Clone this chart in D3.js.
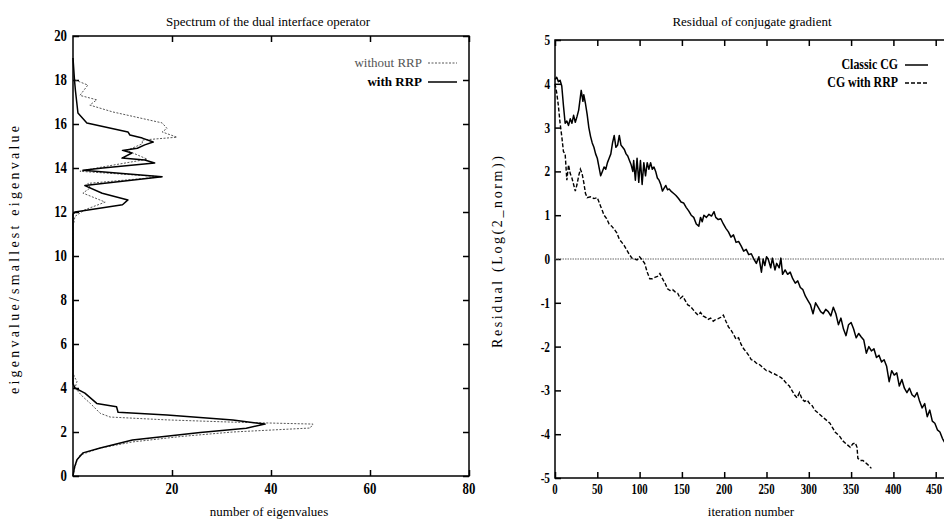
<!DOCTYPE html>
<html>
<head>
<meta charset="utf-8">
<script src="https://cdn.jsdelivr.net/npm/d3@7"></script>
<style>
  body { margin: 0; background: #fff; }
  svg { display: block; font-family: "Liberation Serif", "DejaVu Serif", serif; }
</style>
</head>
<body>
<svg id="chart" width="944" height="519"></svg>
<script>
// ---- left panel: spectrum (count of eigenvalues vs eigenvalue ratio) ----
// points are [number of eigenvalues, eigenvalue/smallest eigenvalue], in path order
const withoutRRP = [
  [0,0],[0.4,0.4],[0.8,0.7],[1.4,0.95],[5.5,1.27],[12.1,1.55],[22,1.8],[32.3,2.0],[47.9,2.18],[48.5,2.36],
  [32,2.45],[19,2.55],[7.5,2.68],[5.5,2.85],[3.5,3.3],[2,3.6],[0.4,4.0],[0.8,4.3],[0.3,4.5],[0,4.7],
  [0,11.3],[0.4,11.8],[2.4,12.1],[6.5,12.45],[2,12.86],[3.5,13.1],[3,13.3],[18,13.6],[1.4,13.85],[6,14.05],
  [15,14.4],[10.9,14.8],[14,15.1],[14,15.27],[21,15.4],[18,15.64],[19,15.8],[18,16.05],[8,16.55],[3.4,16.86],
  [4.8,17.1],[1.4,17.3],[3,17.77],[0.4,18],[0,18.3]
];
const withRRP = [
  [0,0],[0.3,0.4],[0.8,0.74],[2,1.05],[5.5,1.27],[12,1.64],[25.7,1.98],[35,2.17],[38.8,2.36],[32.3,2.55],
  [19,2.77],[9.1,2.9],[8.8,3.15],[4.8,3.3],[2.4,3.77],[0.4,4.0],[0,4.2],[0,11.9],[0.4,12.0],[10,12.33],
  [11.1,12.55],[5.9,12.85],[2.4,13.2],[18,13.6],[2,13.9],[6,14.0],[16.5,14.23],[14.5,14.36],[9.9,14.45],[11.9,14.68],
  [10,14.8],[13,14.9],[14.5,15.05],[16.2,15.18],[14,15.36],[11.5,15.5],[11.1,15.64],[2.8,16.05],[1,16.5],[0.5,17.5],
  [0.3,18],[0,19]
];
const specXTicks = [20, 40, 60, 80];
const specYTicks = [0, 2, 4, 6, 8, 10, 12, 14, 16, 18, 20];

// ---- right panel: residual of conjugate gradient ----
const classicIter = [0,2,4,6,8,10,12,14,16,18,20,22,24,26,28,30,31,33,34,36,38,40,42,44,46,48,50,52,54,56,58,60,62,64,66,68,70,72,74,76,78,80,82,84,86,88,90,92,93,95,97,99,101,103,105,107,109,111,113,115,117,119,121,123,125,127,129,131,133,135,137,140,143,146,149,152,155,158,161,164,167,170,172,174,176,179,182,185,188,190,193,196,199,202,205,208,211,214,217,220,223,226,229,232,235,238,241,244,246,248,250,252,255,257,260,262,265,267,269,272,275,278,281,284,287,290,293,296,299,302,305,308,311,314,317,320,323,326,329,332,335,338,341,344,347,350,353,356,359,362,365,368,371,374,377,380,383,386,389,392,395,398,401,404,407,410,413,416,419,422,425,428,431,434,437,440,443,446,449,452,455,458,461,464];
const classicRes = [4.1,4.15,4.05,4.08,3.95,3.5,3.1,3.15,3.05,3.2,3.1,3.28,3.12,3.25,3.4,3.7,3.85,3.6,3.75,3.55,3.3,3.0,2.8,2.65,2.55,2.4,2.3,2.1,1.9,2.0,2.1,2.05,2.2,2.3,2.4,2.65,2.82,2.55,2.6,2.82,2.6,2.55,2.5,2.4,2.35,2.25,2.15,2.0,2.25,1.8,2.3,1.75,2.25,1.7,2.2,1.9,2.2,2.05,2.2,2.05,2.1,2.0,1.85,1.8,1.7,1.55,1.62,1.68,1.58,1.6,1.55,1.5,1.45,1.38,1.3,1.28,1.18,1.1,1.0,0.95,0.8,0.75,0.95,0.85,1.0,0.95,1.02,0.98,1.08,0.95,0.9,0.92,0.8,0.7,0.62,0.5,0.55,0.38,0.4,0.3,0.18,0.22,0.1,0.12,0.0,-0.1,0.05,-0.3,0.0,-0.15,0.05,0.0,-0.2,0.02,-0.25,-0.1,-0.2,0.02,-0.35,-0.25,-0.35,-0.3,-0.45,-0.55,-0.5,-0.65,-0.7,-0.85,-0.95,-1.05,-1.25,-1.0,-1.1,-1.2,-1.25,-1.15,-1.2,-1.3,-1.1,-1.25,-1.5,-1.35,-1.6,-1.75,-1.5,-1.45,-1.6,-1.8,-1.7,-1.78,-1.85,-2.15,-2.0,-2.1,-2.05,-2.25,-2.2,-2.35,-2.3,-2.45,-2.8,-2.55,-2.65,-2.6,-2.9,-2.75,-2.95,-3.05,-2.95,-3.1,-3.15,-3.05,-3.25,-3.4,-3.3,-3.6,-3.45,-3.7,-3.75,-3.9,-3.95,-4.1,-4.2,-4.25];
const rrpIter = [0,2,4,6,8,10,12,14,16,18,20,22,24,26,28,30,32,34,36,38,42,46,50,52,54,56,58,61,64,67,70,73,76,79,82,85,88,91,94,97,100,103,106,109,112,115,118,121,124,127,130,133,136,139,142,145,148,151,154,157,160,163,166,169,172,175,178,181,184,187,190,193,196,199,202,205,208,211,214,217,220,223,226,229,232,235,238,241,244,247,250,253,256,259,262,265,268,271,274,277,280,283,286,289,292,295,298,301,304,307,310,313,316,319,322,325,328,331,334,337,340,343,346,349,352,355,357,358,361,364,367,370,374];
const rrpRes = [4.0,3.8,3.5,3.1,2.8,2.45,2.4,1.8,2.15,1.95,1.85,1.7,1.55,1.7,1.9,2.05,1.95,1.75,1.5,1.4,1.42,1.38,1.4,1.3,1.2,1.1,1.0,0.92,0.8,0.75,0.68,0.6,0.45,0.38,0.3,0.2,0.1,0.02,0.0,-0.02,0.05,-0.02,-0.1,-0.3,-0.45,-0.45,-0.42,-0.4,-0.33,-0.45,-0.55,-0.68,-0.72,-0.7,-0.75,-0.78,-0.9,-0.85,-0.95,-1.05,-1.08,-1.15,-1.22,-1.28,-1.22,-1.3,-1.33,-1.38,-1.35,-1.42,-1.38,-1.36,-1.33,-1.28,-1.42,-1.55,-1.62,-1.72,-1.83,-1.8,-1.95,-2.05,-2.12,-2.2,-2.3,-2.32,-2.38,-2.4,-2.45,-2.5,-2.55,-2.56,-2.6,-2.62,-2.65,-2.68,-2.72,-2.78,-2.85,-2.9,-3.0,-3.1,-3.17,-3.05,-3.2,-3.25,-3.22,-3.3,-3.35,-3.45,-3.5,-3.55,-3.6,-3.65,-3.7,-3.75,-3.85,-3.95,-4.0,-4.06,-4.15,-4.2,-4.25,-4.3,-4.22,-4.2,-4.3,-4.55,-4.6,-4.6,-4.65,-4.7,-4.78];
const iterTicks = [0, 50, 100, 150, 200, 250, 300, 350, 400, 450, 500];
const iterLabels = [0, 50, 100, 150, 200, 250, 300, 350, 400, 450];
const resTicks = [5, 4, 3, 2, 1, 0, -1, -2, -3, -4, -5];

const svg = d3.select("#chart");

// small helper for the condensed bold tick numbers
function tickLabel(g, x, y, txt, anchor, size, sc) {
  g.append("text")
    .attr("transform", `translate(${x},${y}) scale(${sc},1)`)
    .attr("text-anchor", anchor)
    .style("font-size", size + "px")
    .style("font-weight", "bold")
    .text(txt);
}

// ================= left panel =================
let sx = d3.scaleLinear().domain([0, 80]).range([73, 469]);
let sy = d3.scaleLinear().domain([0, 20]).range([476, 36]);
let left = svg.append("g");

left.append("g").attr("transform", "translate(73,0)")
  .call(d3.axisLeft(sy).tickValues(specYTicks).tickSize(-6).tickFormat(""))
  .call(g => g.select(".domain").remove());
left.append("g").attr("transform", "translate(469,0)")
  .call(d3.axisRight(sy).tickValues(specYTicks).tickSize(-6).tickFormat(""))
  .call(g => g.select(".domain").remove());
left.append("g").attr("transform", "translate(0,476)")
  .call(d3.axisBottom(sx).tickValues(specXTicks).tickSize(-6).tickFormat(""))
  .call(g => g.select(".domain").remove());
left.append("g").attr("transform", "translate(0,36)")
  .call(d3.axisTop(sx).tickValues(specXTicks).tickSize(-6).tickFormat(""))
  .call(g => g.select(".domain").remove());
left.selectAll(".tick line").attr("stroke", "#000").attr("stroke-width", 1.5);

left.append("rect").attr("x", 73).attr("y", 36).attr("width", 396).attr("height", 440)
  .attr("fill", "none").attr("stroke", "#000").attr("stroke-width", 1.5);

specYTicks.forEach(v => tickLabel(left, 67, sy(v) + 5, v, "end", 16, 0.8));
specXTicks.forEach(v => tickLabel(left, sx(v), 494, v, "middle", 16, 0.8));

let specLine = d3.line().x(d => sx(d[0])).y(d => sy(d[1]));
left.append("path").attr("d", specLine(withoutRRP))
  .attr("fill", "none").attr("stroke", "#444").attr("stroke-width", 0.9)
  .attr("stroke-dasharray", "2,1.5");
left.append("path").attr("d", specLine(withRRP))
  .attr("fill", "none").attr("stroke", "#000").attr("stroke-width", 1.5)
  .attr("stroke-linejoin", "round");

left.append("text").attr("x", 268).attr("y", 26).attr("text-anchor", "middle")
  .style("font-size", "13px").text("Spectrum of the dual interface operator");
left.append("text").attr("x", 269).attr("y", 516).attr("text-anchor", "middle")
  .style("font-size", "13px").text("number of eigenvalues");
left.append("text").attr("transform", "translate(19,260) rotate(-90)")
  .attr("text-anchor", "middle").style("font-size", "14px")
  .attr("textLength", 268).attr("lengthAdjust", "spacing")
  .text("eigenvalue/smallest eigenvalue");

// legend
left.append("text").attr("x", 422).attr("y", 67).attr("text-anchor", "end")
  .style("font-size", "13px").attr("fill", "#555").text("without RRP");
left.append("line").attr("x1", 428).attr("x2", 457).attr("y1", 63).attr("y2", 63)
  .attr("stroke", "#444").attr("stroke-width", 0.9).attr("stroke-dasharray", "2,1.5");
left.append("text").attr("x", 422).attr("y", 86).attr("text-anchor", "end")
  .style("font-size", "13px").style("font-weight", "bold").text("with RRP");
left.append("line").attr("x1", 428).attr("x2", 457).attr("y1", 82).attr("y2", 82)
  .attr("stroke", "#000").attr("stroke-width", 1.5);

// ================= right panel =================
let rx = d3.scaleLinear().domain([0, 500]).range([555, 978]);
let ry = d3.scaleLinear().domain([-5, 5]).range([478, 40]);
let right = svg.append("g");

right.append("g").attr("transform", "translate(555,0)")
  .call(d3.axisLeft(ry).tickValues(resTicks).tickSize(-6).tickFormat(""))
  .call(g => g.select(".domain").remove());
right.append("g").attr("transform", "translate(0,478)")
  .call(d3.axisBottom(rx).tickValues(iterTicks).tickSize(-6).tickFormat(""))
  .call(g => g.select(".domain").remove());
right.append("g").attr("transform", "translate(0,40)")
  .call(d3.axisTop(rx).tickValues(iterTicks).tickSize(-6).tickFormat(""))
  .call(g => g.select(".domain").remove());
right.selectAll(".tick line").attr("stroke", "#000").attr("stroke-width", 1.5);

right.append("rect").attr("x", 555).attr("y", 40).attr("width", 423).attr("height", 438)
  .attr("fill", "none").attr("stroke", "#000").attr("stroke-width", 1.5);

// zero line
right.append("line").attr("x1", rx(0)).attr("x2", rx(500)).attr("y1", ry(0)).attr("y2", ry(0))
  .attr("stroke", "#666").attr("stroke-width", 1).attr("stroke-dasharray", "1.5,1");

resTicks.forEach(v => tickLabel(right, 550, ry(v) + 5, String(v), "end", 15, 0.75));
iterLabels.forEach(v => tickLabel(right, Math.min(rx(v), 934), 494, v, "middle", 15, 0.72));

let resLine = d3.line().x(d => rx(d[0])).y(d => ry(d[1]));
right.append("path").attr("d", resLine(d3.zip(rrpIter, rrpRes)))
  .attr("fill", "none").attr("stroke", "#000").attr("stroke-width", 1.4)
  .attr("stroke-dasharray", "4,2");
right.append("path").attr("d", resLine(d3.zip(classicIter, classicRes)))
  .attr("fill", "none").attr("stroke", "#000").attr("stroke-width", 1.5)
  .attr("stroke-linejoin", "round");

right.append("text").attr("x", 752).attr("y", 26).attr("text-anchor", "middle")
  .style("font-size", "13px").text("Residual of conjugate gradient");
right.append("text").attr("x", 751).attr("y", 516).attr("text-anchor", "middle")
  .style("font-size", "13px").text("iteration number");
right.append("text").attr("transform", "translate(502,252) rotate(-90)")
  .attr("text-anchor", "middle").style("font-size", "14px")
  .attr("textLength", 192).attr("lengthAdjust", "spacing")
  .text("Residual (Log(2_norm))");

// legend
right.append("text").attr("x", 898).attr("y", 69).attr("text-anchor", "end")
  .style("font-size", "14px").style("font-weight", "bold")
  .attr("transform", "translate(898,0) scale(0.85,1) translate(-898,0)").text("Classic CG");
right.append("line").attr("x1", 905).attr("x2", 928).attr("y1", 65).attr("y2", 65)
  .attr("stroke", "#000").attr("stroke-width", 1.5);
right.append("text").attr("x", 898).attr("y", 87).attr("text-anchor", "end")
  .style("font-size", "14px").style("font-weight", "bold")
  .attr("transform", "translate(898,0) scale(0.85,1) translate(-898,0)").text("CG with RRP");
right.append("line").attr("x1", 905).attr("x2", 928).attr("y1", 83).attr("y2", 83)
  .attr("stroke", "#000").attr("stroke-width", 1.4).attr("stroke-dasharray", "4,2");
</script>
</body>
</html>
